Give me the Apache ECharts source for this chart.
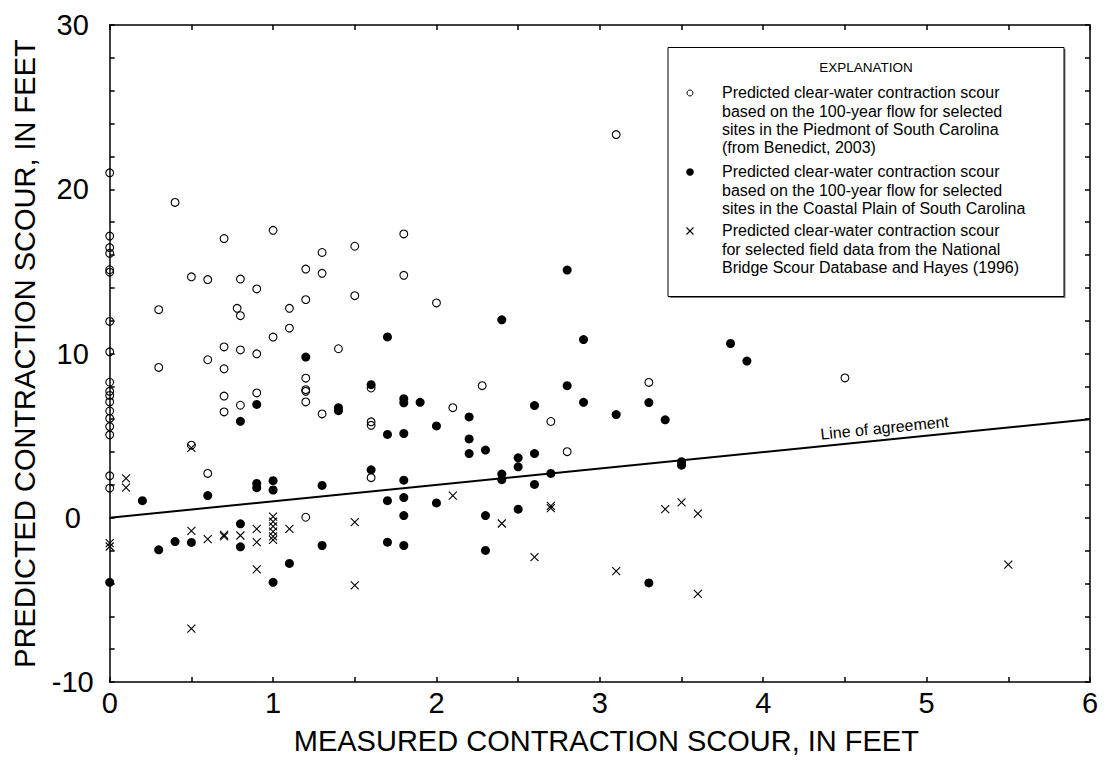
<!DOCTYPE html>
<html>
<head>
<meta charset="utf-8">
<script src="https://cdn.jsdelivr.net/npm/echarts@6/dist/echarts.min.js"></script>
<style>
html,body{margin:0;padding:0;background:#fff;}
#c{width:1106px;height:760px;}
</style>
</head>
<body>
<div id="c"></div>
<script>
// ---- tick labels ----
const xTickLabels = [0, 1, 2, 3, 4, 5, 6];
const yTickLabels = [-10, 0, 10, 20, 30];

// ---- series data: [measured, predicted] in feet ----
const piedmont = [
  [0,21.0],[0,17.15],[0,16.45],[0,16.1],[0,15.1],[0,14.95],[0,11.95],[0,10.1],[0,8.25],[0,7.7],
  [0,7.45],[0,7.05],[0,6.5],[0,6.05],[0,5.55],[0,5.05],[0,2.55],[0,1.8],
  [0.3,12.67],[0.3,9.15],[0.4,19.2],[0.5,14.67],[0.5,4.42],
  [0.6,14.5],[0.6,9.62],[0.6,2.7],
  [0.7,17.0],[0.7,10.4],[0.7,9.07],[0.7,7.41],[0.7,6.44],
  [0.8,14.53],[0.78,12.75],[0.8,12.3],[0.8,10.22],[0.8,6.85],
  [0.9,13.93],[0.9,9.98],[0.9,7.6],
  [1.0,17.5],[1.0,11.0],[1.1,12.75],[1.1,11.54],
  [1.2,15.14],[1.2,13.28],[1.2,8.5],[1.2,7.8],[1.2,7.7],[1.2,7.05],[1.2,0.03],
  [1.3,16.15],[1.3,14.88],[1.3,6.32],[1.4,10.29],[1.5,16.53],[1.5,13.52],
  [1.6,7.9],[1.6,5.84],[1.6,5.63],[1.6,2.44],
  [1.8,17.28],[1.8,14.76],[2.0,13.08],[2.1,6.7],[2.28,8.04],
  [2.7,5.86],[2.8,4.02],[3.1,23.33],[3.3,8.24],[4.5,8.51]
];
const coastalPlain = [
  [0,-3.93],[0.2,1.04],[0.3,-1.95],[0.4,-1.45],[0.5,-1.5],[0.6,1.35],
  [0.8,5.87],[0.8,-0.37],[0.8,-1.77],[0.9,6.9],[0.9,2.09],[0.9,1.83],
  [1.0,2.26],[1.0,1.69],[1.0,-3.93],[1.1,-2.78],[1.2,9.78],[1.3,1.97],[1.3,-1.69],
  [1.4,6.7],[1.4,6.52],[1.6,8.1],[1.6,2.92],
  [1.7,11.01],[1.7,5.07],[1.7,1.04],[1.7,-1.49],
  [1.8,7.25],[1.8,7.0],[1.8,5.13],[1.8,2.29],[1.8,1.23],[1.8,0.13],[1.8,-1.69],
  [1.9,7.03],[2.0,5.59],[2.0,0.9],[2.2,6.14],[2.2,4.8],[2.2,3.91],
  [2.3,4.12],[2.3,0.13],[2.3,-1.99],[2.4,12.05],[2.4,2.66],[2.4,2.32],
  [2.5,3.65],[2.5,3.1],[2.5,0.52],[2.6,6.83],[2.6,3.91],[2.6,2.03],[2.7,2.7],
  [2.8,15.08],[2.8,8.04],[2.9,10.85],[2.9,7.03],[3.1,6.28],[3.3,7.01],[3.3,-3.97],
  [3.4,5.96],[3.5,3.41],[3.5,3.2],[3.8,10.61],[3.9,9.54]
];
const fieldData = [
  [0,-1.55],[0,-1.75],[0.1,2.4],[0.1,1.83],[0.5,4.26],[0.5,-0.8],[0.5,-6.75],
  [0.6,-1.3],[0.7,-1.04],[0.7,-1.14],[0.8,-1.08],[0.9,-0.68],[0.9,-1.49],[0.9,-3.14],
  [1.0,0.07],[1.0,-0.23],[1.0,-0.53],[1.0,-0.84],[1.0,-1.14],[1.0,-1.35],[1.1,-0.68],
  [1.5,-0.27],[1.5,-4.12],[2.1,1.35],[2.4,-0.35],[2.6,-2.4],[2.7,0.72],[2.7,0.58],
  [3.1,-3.25],[3.4,0.52],[3.5,0.94],[3.6,0.25],[3.6,-4.63],[5.5,-2.86]
];
const agreementLine = [[0,0],[6,6]];

const seriesNames = [
  'Predicted clear-water contraction scour\nbased on the 100-year flow for selected\nsites in the Piedmont of South Carolina\n(from Benedict, 2003)',
  'Predicted clear-water contraction scour\nbased on the 100-year flow for selected\nsites in the Coastal Plain of South Carolina',
  'Predicted clear-water contraction scour\nfor selected field data from the National\nBridge Scour Database and Hayes (1996)'
];
const legendTitle = 'EXPLANATION';
const lineLabel = 'Line of agreement';

const FONT = '"Liberation Sans", Arial, Helvetica, sans-serif';
const crossPath = 'path://M0,0L10,10M10,0L0,10';

const chart = echarts.init(document.getElementById('c'), null, {renderer: 'svg'});

const axisCommon = {
  type: 'value',
  axisLine: {show: true, onZero: false, lineStyle: {color: '#000', width: 1.5}},
  axisTick: {show: true, inside: true, length: 5, lineStyle: {color: '#000', width: 1.5}},
  splitLine: {show: false}
};

const option = {
  backgroundColor: '#fff',
  animation: false,
  grid: {left: 109.7, right: 16, top: 25, bottom: 75.7, containLabel: false},
  xAxis: [
    Object.assign({}, axisCommon, {
      min: 0, max: 6, interval: 0.5, position: 'bottom',
      axisLabel: {
        formatter: v => xTickLabels.includes(v) ? String(v) : '',
        fontSize: 29, color: '#000', margin: 6, fontFamily: FONT
      },
      name: 'MEASURED CONTRACTION SCOUR, IN FEET',
      nameLocation: 'middle', nameGap: 44,
      nameTextStyle: {fontSize: 29, color: '#000', fontFamily: FONT, padding: [0, 0, 0, 13]}
    }),
    Object.assign({}, axisCommon, {
      min: 0, max: 6, interval: 0.5, position: 'top',
      axisLabel: {show: false}
    })
  ],
  yAxis: [
    Object.assign({}, axisCommon, {
      min: -10, max: 30, interval: 2, position: 'left',
      axisLabel: {
        formatter: v => yTickLabels.includes(v) ? String(v) : '',
        fontSize: 29, color: '#000', margin: 37, align: 'center', fontFamily: FONT
      },
      name: 'PREDICTED CONTRACTION SCOUR, IN FEET',
      nameLocation: 'middle', nameGap: 70,
      nameTextStyle: {fontSize: 29, color: '#000', fontFamily: FONT}
    }),
    Object.assign({}, axisCommon, {
      min: -10, max: 30, interval: 2, position: 'right',
      axisLabel: {show: false}
    })
  ],
  series: [
    {
      name: 'Line of agreement', type: 'line', data: agreementLine,
      xAxisIndex: 0, yAxisIndex: 0, symbol: 'none', silent: true,
      lineStyle: {color: '#000', width: 2}, z: 1
    },
    {
      name: seriesNames[0], type: 'scatter', data: piedmont, clip: false,
      symbol: 'circle', symbolSize: 7.8,
      itemStyle: {color: 'rgba(0,0,0,0)', borderColor: '#000', borderWidth: 1.1, opacity: 1}, z: 3
    },
    {
      name: seriesNames[1], type: 'scatter', data: coastalPlain, clip: false,
      symbol: 'circle', symbolSize: 9,
      itemStyle: {color: '#000', borderColor: '#000', borderWidth: 0, opacity: 1}, z: 3
    },
    {
      name: seriesNames[2], type: 'scatter', data: fieldData, clip: false,
      symbol: crossPath, symbolSize: 8,
      itemStyle: {color: 'none', borderColor: '#000', borderWidth: 1.1, opacity: 1}, z: 3
    }
  ]
};
chart.setOption(option);

// ---- explanation box + line label (layout) ----
function buildGraphics() {
  const boxL = 668, boxT = 47.5, boxW = 396, boxH = 249;
  const textL = 722, mX = 690, lh = 18.3;
  const blocks = [
    {first: 93, text: seriesNames[0]},
    {first: 172, text: seriesNames[1]},
    {first: 231, text: seriesNames[2]}
  ];
  const els = [
    {type: 'rect', shape: {x: boxL + 1.5, y: boxT + 1.5, width: boxW, height: boxH},
     style: {fill: '#777', stroke: null}, z: 10, silent: true},
    {type: 'rect', shape: {x: boxL, y: boxT, width: boxW, height: boxH},
     style: {fill: '#fff', stroke: '#000', lineWidth: 1}, z: 11, silent: true},
    {type: 'text', x: boxL + boxW / 2, y: 67, z: 12, silent: true,
     style: {text: legendTitle, fontSize: 13.5, fontFamily: FONT, fill: '#000', align: 'center', verticalAlign: 'middle'}}
  ];
  blocks.forEach(b => {
    els.push({type: 'text', x: textL, y: b.first - lh / 2, z: 12, silent: true,
      style: {text: b.text, fontSize: 16, lineHeight: lh, fontFamily: FONT, fill: '#000', align: 'left', verticalAlign: 'top'}});
  });
  els.push({type: 'circle', shape: {cx: mX, cy: blocks[0].first, r: 3}, z: 12, silent: true,
    style: {fill: 'none', stroke: '#000', lineWidth: 1}});
  els.push({type: 'circle', shape: {cx: mX, cy: blocks[1].first, r: 3.8}, z: 12, silent: true,
    style: {fill: '#000', stroke: null}});
  els.push({type: 'polyline', shape: {points: [[mX - 3.5, blocks[2].first - 3.5], [mX + 3.5, blocks[2].first + 3.5]]}, z: 12, silent: true,
    style: {stroke: '#000', lineWidth: 1.1}});
  els.push({type: 'polyline', shape: {points: [[mX + 3.5, blocks[2].first - 3.5], [mX - 3.5, blocks[2].first + 3.5]]}, z: 12, silent: true,
    style: {stroke: '#000', lineWidth: 1.1}});

  // label along line of agreement
  const p0 = chart.convertToPixel({xAxisIndex: 0, yAxisIndex: 0}, agreementLine[0]);
  const p1 = chart.convertToPixel({xAxisIndex: 0, yAxisIndex: 0}, agreementLine[1]);
  const ang = Math.atan2(p0[1] - p1[1], p1[0] - p0[0]);
  const pm = chart.convertToPixel({xAxisIndex: 0, yAxisIndex: 0}, [4.75, 4.75]);
  const off = 12;
  els.push({type: 'text', x: pm[0] - off * Math.sin(ang), y: pm[1] - off * Math.cos(ang),
    rotation: ang, z: 12, silent: true,
    style: {text: lineLabel, fontSize: 16, fontFamily: FONT, fill: '#000', align: 'center', verticalAlign: 'middle'}});
  chart.setOption({graphic: {elements: els}});
}
buildGraphics();
</script>
</body>
</html>
